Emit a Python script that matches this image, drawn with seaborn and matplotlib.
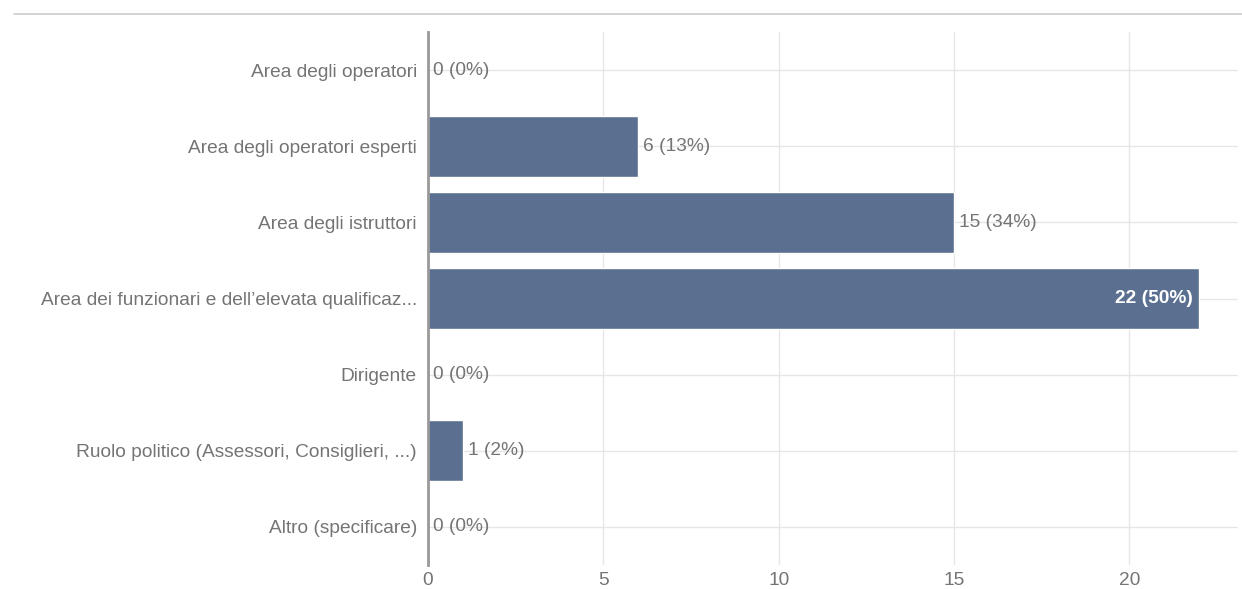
import matplotlib
matplotlib.use("Agg")
import matplotlib.pyplot as plt
from matplotlib.lines import Line2D
import seaborn as sns
import pandas as pd

categories = [
    "Area degli operatori",
    "Area degli operatori esperti",
    "Area degli istruttori",
    "Area dei funzionari e dell\u2019elevata qualificaz...",
    "Dirigente",
    "Ruolo politico (Assessori, Consiglieri, ...)",
    "Altro (specificare)",
]
counts = [0, 6, 15, 22, 0, 1, 0]
percents = [0, 13, 34, 50, 0, 2, 0]

BAR = "#5b7090"
TXT = "#747474"
FS = 13.8

sns.set_theme(style="white")
plt.rcParams["font.family"] = ["Liberation Sans", "DejaVu Sans"]

df = pd.DataFrame({"cat": categories, "n": counts})

fig = plt.figure(figsize=(12.42, 5.89), dpi=100)
ax = fig.add_axes([428 / 1242, 24 / 589, 810 / 1242, 533 / 589])

sns.barplot(data=df, x="n", y="cat", orient="h", color=BAR, width=0.8,
            saturation=1, ax=ax, zorder=2)

ax.set_xlim(0, 23.1)
ax.set_ylim(6.5, -0.5)
ax.set_xticks([0, 5, 10, 15, 20])
ax.set_xlabel("")
ax.set_ylabel("")
for s in ["top", "right", "bottom"]:
    ax.spines[s].set_visible(False)
ax.spines["left"].set_color("#999999")
ax.spines["left"].set_linewidth(2)
ax.spines["left"].set_zorder(4)

ax.grid(True, axis="x", color="#e6e6e6", linewidth=1, zorder=0)
for i in range(len(categories)):
    ax.axhline(i, color="#e6e6e6", linewidth=1, zorder=0)
ax.set_axisbelow(True)

ax.tick_params(axis="y", length=0, pad=8, labelsize=FS, labelcolor=TXT)
ax.tick_params(axis="x", length=0, pad=5, labelsize=FS, labelcolor=TXT)

xmax = max(counts)
for i, (n, p) in enumerate(zip(counts, percents)):
    label = f"{n} ({p}%)"
    if n == xmax:
        ax.text(n - 0.18, i, label, va="center", ha="right", color="white",
                fontsize=FS, fontweight="bold", zorder=5)
    else:
        ax.text(n + 0.14, i, label, va="center", ha="left", color=TXT,
                fontsize=FS, zorder=5)

fig.add_artist(Line2D([14 / 1242, 1], [1 - 14 / 589] * 2, color="#cccccc",
                      linewidth=1.2, transform=fig.transFigure))

fig.savefig("out.png", dpi=100)
